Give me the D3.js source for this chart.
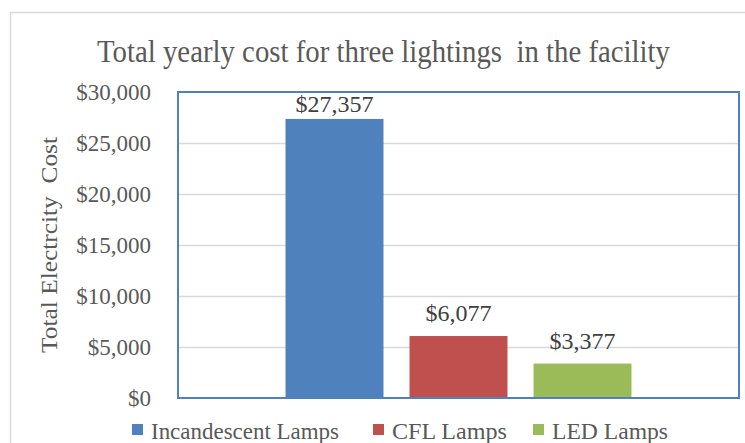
<!DOCTYPE html>
<html><head><meta charset="utf-8">
<script src="https://cdn.jsdelivr.net/npm/d3@7"></script>
<style>body{margin:0;background:#fff}svg{display:block}</style>
</head><body>
<svg id="c" width="745" height="443"></svg>
<script>
const title = "Total yearly cost for three lightings  in the facility";
const yAxisTitle = "Total Electrcity  Cost";
const series = ["Incandescent Lamps", "CFL Lamps", "LED Lamps"];
const values = [27357, 6077, 3377];
const colors = ["#4F81BD", "#C0504D", "#9BBB59"];
const yTicks = [0, 5000, 10000, 15000, 20000, 25000, 30000];

const svg = d3.select("#c");
const font = "'Liberation Serif','Times New Roman',serif";
const txt = "#595959";

// outer chart border
svg.append("rect").attr("x", 10.5).attr("y", 12.5).attr("width", 760).attr("height", 460)
  .attr("fill", "#fff").attr("stroke", "#D9D9D9").attr("stroke-width", 1.5);

const L = 178, R = 739, T = 92, B = 398;
const y = d3.scaleLinear().domain([0, 30000]).range([B, T]);
const x = d3.scaleBand().domain(series).range([L, R]).paddingInner(0.21).paddingOuter(0.867);

// gridlines
svg.append("g").selectAll("line").data(yTicks.filter(d => d > 0 && d < 30000)).join("line")
  .attr("x1", L).attr("x2", R).attr("y1", d => Math.round(y(d)) + 0.5).attr("y2", d => Math.round(y(d)) + 0.5)
  .attr("stroke", "#D9D9D9").attr("stroke-width", 1.5);

// y axis labels
const fmt = d => "$" + d3.format(",")(d);
const yAxis = d3.axisLeft(y).tickValues(yTicks).tickFormat(fmt).tickSize(0).tickPadding(27);
const ga = svg.append("g").attr("transform", `translate(${L},0)`).call(yAxis);
ga.select(".domain").remove();
ga.selectAll("text").attr("font-family", font).attr("font-size", 23).attr("fill", txt);

// bars
svg.append("g").selectAll("rect").data(values).join("rect")
  .attr("x", (d, i) => x(series[i])).attr("width", x.bandwidth())
  .attr("y", d => y(d)).attr("height", d => B - y(d))
  .attr("fill", (d, i) => colors[i]);

// data labels
svg.append("g").selectAll("text").data(values).join("text")
  .attr("x", (d, i) => x(series[i]) + x.bandwidth() / 2)
  .attr("y", d => Math.max(y(d) - 15, 112))
  .attr("text-anchor", "middle").attr("font-family", font).attr("font-size", 24).attr("fill", "#404040")
  .text(fmt);

// plot area border
svg.append("rect").attr("x", L).attr("y", T).attr("width", R - L).attr("height", B - T)
  .attr("fill", "none").attr("stroke", "#4F81BD").attr("stroke-width", 2);

// title
svg.append("text").attr("x", 97).attr("y", 62)
  .attr("font-family", font).attr("font-size", 31).attr("fill", txt)
  .attr("textLength", 573).attr("lengthAdjust", "spacingAndGlyphs")
  .style("white-space", "pre").text(title);

// y axis title
svg.append("text").attr("transform", "translate(57,245) rotate(-90)").attr("text-anchor", "middle")
  .attr("font-family", font).attr("font-size", 23).attr("fill", txt)
  .attr("textLength", 216).attr("lengthAdjust", "spacingAndGlyphs")
  .style("white-space", "pre").text(yAxisTitle);

// legend
const legX = [132, 373, 533];
const legW = [188, 115, 116];
const lg = svg.append("g").selectAll("g").data(series).join("g")
  .attr("transform", (d, i) => `translate(${legX[i]},0)`);
lg.append("rect").attr("x", 0).attr("y", 424).attr("width", 11).attr("height", 11).attr("fill", (d, i) => colors[i]);
lg.append("text").attr("x", 19).attr("y", 439).attr("font-family", font).attr("font-size", 23).attr("fill", txt)
  .attr("textLength", (d, i) => legW[i]).attr("lengthAdjust", "spacingAndGlyphs").text(d => d);
</script>
</body></html>
